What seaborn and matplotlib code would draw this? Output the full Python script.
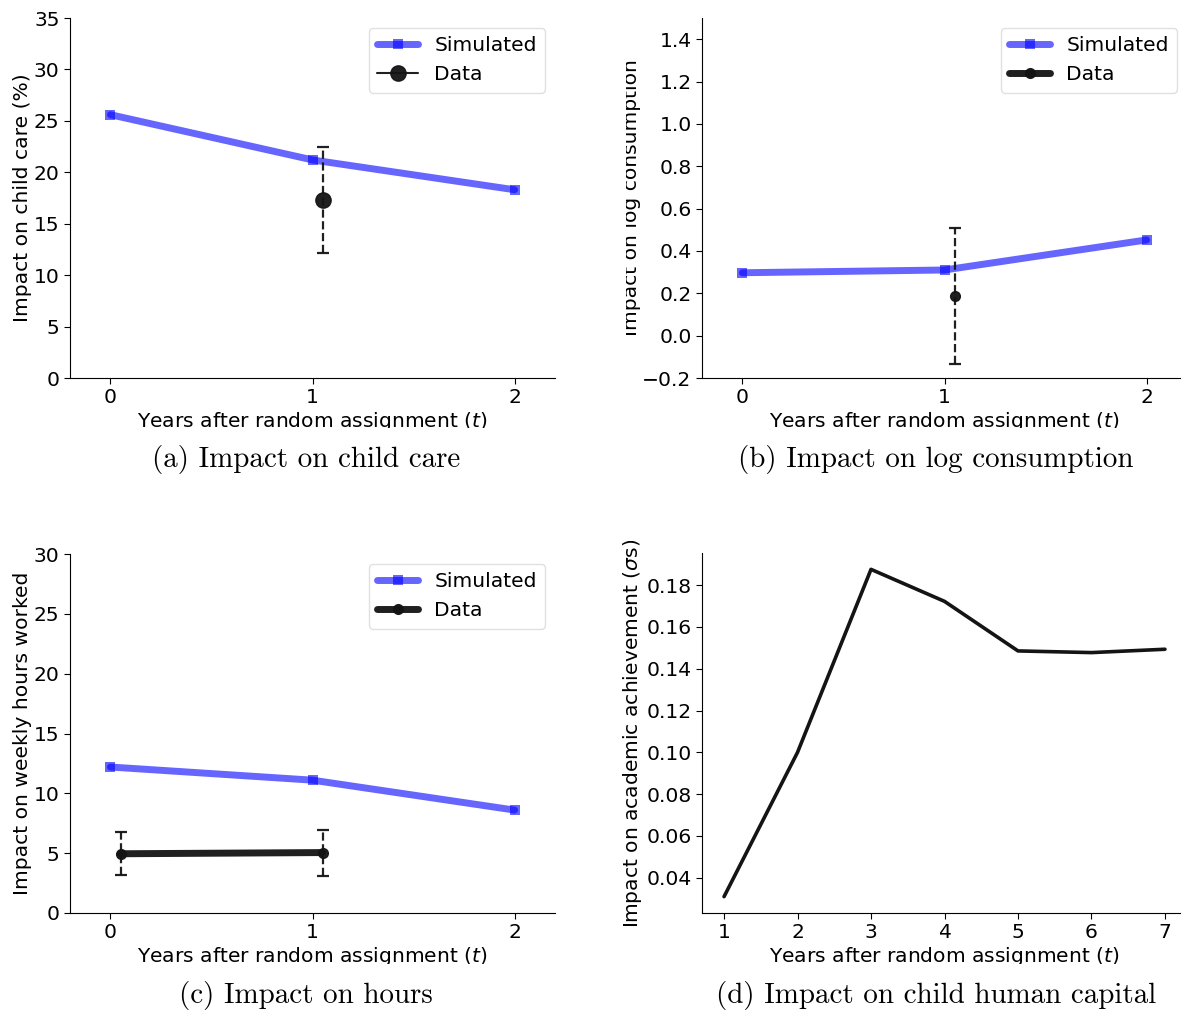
import matplotlib
matplotlib.use("Agg")
import matplotlib.pyplot as plt
import seaborn as sns
import numpy as np
import pandas as pd
from matplotlib.lines import Line2D
from matplotlib.transforms import Bbox, TransformedBbox

# ---- values ----
years_sim = [0, 1, 2]

care_sim = [25.6, 21.2, 18.3]
care_data_t = [1.05]
care_data = [17.3]
care_err = [5.15]

cons_sim = [0.297, 0.310, 0.452]
cons_data_t = [1.05]
cons_data = [0.188]
cons_err = [0.322]

hours_sim = [12.2, 11.1, 8.6]
hours_data_t = [0.05, 1.05]
hours_data = [4.95, 5.05]
hours_err_lo = [1.80, 1.95]
hours_err_hi = [1.80, 1.90]

years_hc = [1, 2, 3, 4, 5, 6, 7]
hc_impact = [0.031, 0.100, 0.1875, 0.1722, 0.1485, 0.1477, 0.1493]

xlabel = "Years after random assignment ($t$)"
captions = ["(a) Impact on child care", "(b) Impact on log consumption",
            "(c) Impact on hours", "(d) Impact on child human capital"]

sns.set_style("ticks")
plt.rcParams["font.family"] = ["DejaVu Sans"]
plt.rcParams["mathtext.fontset"] = "dejavusans"
FS = 14.6
plt.rcParams.update({
    "font.size": FS, "axes.labelsize": FS, "xtick.labelsize": FS,
    "ytick.labelsize": FS, "legend.fontsize": FS,
    "text.color": "black", "axes.labelcolor": "black",
    "axes.edgecolor": "black", "xtick.color": "black", "ytick.color": "black",
    "xtick.major.size": 4, "ytick.major.size": 4,
    "legend.framealpha": 0.8, "legend.edgecolor": "0.85",
})

W, H = 1181, 1010
fig = plt.figure(figsize=(W / 100, H / 100), dpi=100)


def axes_px(left, top, right, bottom):
    return fig.add_axes([left / W, 1 - bottom / H, (right - left) / W, (bottom - top) / H])


ax_a = axes_px(70, 18, 555, 378)
ax_b = axes_px(702, 18, 1187, 378)
ax_c = axes_px(70, 554, 555, 913)
ax_d = axes_px(702, 553, 1187, 913)

BLUE = "blue"
DARK = "#141414"
SIM_STYLE = dict(color=BLUE, alpha=0.6, lw=5, marker="s", markersize=7, markeredgewidth=0)


def sim_line(ax, vals):
    df = pd.DataFrame({"t": years_sim, "v": vals})
    sns.lineplot(data=df, x="t", y="v", ax=ax, legend=False, **SIM_STYLE)


def data_err(ax, t, v, err, lw, ms):
    eb = ax.errorbar(t, v, yerr=err, color=DARK, lw=lw, marker="o", ms=ms,
                     capsize=4.3, elinewidth=1.6, capthick=1.6, alpha=0.95)
    for coll in eb[2]:
        coll.set_linestyle("--")
    return Line2D([], [], color=DARK, lw=lw, marker="o", ms=ms, alpha=0.95)


def add_legend(ax, data_handle):
    sim_handle = Line2D([], [], **SIM_STYLE)
    ax.legend([sim_handle, data_handle], ["Simulated", "Data"], loc="upper right",
              handlelength=2.0, numpoints=1)


# (a) child care
sim_line(ax_a, care_sim)
h = data_err(ax_a, care_data_t, care_data, care_err, lw=1.5, ms=11)
add_legend(ax_a, h)
ax_a.set_xlim(-0.2, 2.2)
ax_a.set_ylim(0, 35)
ax_a.set_yticks(np.arange(0, 36, 5))
ax_a.set_ylabel("Impact on child care (%)", labelpad=1.5)

# (b) log consumption
sim_line(ax_b, cons_sim)
h = data_err(ax_b, cons_data_t, cons_data, cons_err, lw=5, ms=7)
add_legend(ax_b, h)
ax_b.set_xlim(-0.2, 2.2)
ax_b.set_ylim(-0.2, 1.5)
ax_b.set_yticks(np.round(np.arange(-0.2, 1.41, 0.2), 1))
ax_b.set_ylabel("Impact on log consumption", labelpad=1.0)

# (c) hours
sim_line(ax_c, hours_sim)
h = data_err(ax_c, hours_data_t, hours_data, [hours_err_lo, hours_err_hi], lw=5, ms=7)
add_legend(ax_c, h)
ax_c.set_xlim(-0.2, 2.2)
ax_c.set_ylim(0, 30)
ax_c.set_yticks(np.arange(0, 31, 5))
ax_c.set_ylabel("Impact on weekly hours worked", labelpad=1.5)

for ax in (ax_a, ax_b, ax_c):
    ax.set_xticks(years_sim)

# (d) child human capital
sns.lineplot(x=years_hc, y=hc_impact, ax=ax_d, color=DARK, lw=2.6)
ax_d.set_xticks(years_hc)
ax_d.set_yticks([0.04, 0.06, 0.08, 0.10, 0.12, 0.14, 0.16, 0.18])
ax_d.set_ylabel("Impact on academic achievement ($\\sigma$s)", labelpad=2.0)

for ax in (ax_a, ax_b, ax_c, ax_d):
    ax.set_xlabel(xlabel, labelpad=2)
    sns.despine(ax=ax)

# each panel is a separate sub-figure: labels are trimmed to its frame
frames = {
    ax_a: (0, 0, 600, 428),
    ax_b: (626, 0, W, 428),
    ax_c: (0, 530, 600, 964),
    ax_d: (618, 541, W, 964),
}
for ax, (x0, y0, x1, y1) in frames.items():
    box = TransformedBbox(Bbox([[x0 / W, 1 - y1 / H], [x1 / W, 1 - y0 / H]]), fig.transFigure)
    for lab in (ax.xaxis.label, ax.yaxis.label):
        lab.set_clip_on(True)
        lab.set_clip_box(box)

# captions in serif below each panel
cap_pos = [(306, 459), (936, 459), (306, 995), (936, 995)]
for text, (cx, cy) in zip(captions, cap_pos):
    fig.text(cx / W, 1 - cy / H, text, family="cmr10", fontsize=20.9,
             ha="center", va="center")

fig.savefig("out.png", dpi=100)
